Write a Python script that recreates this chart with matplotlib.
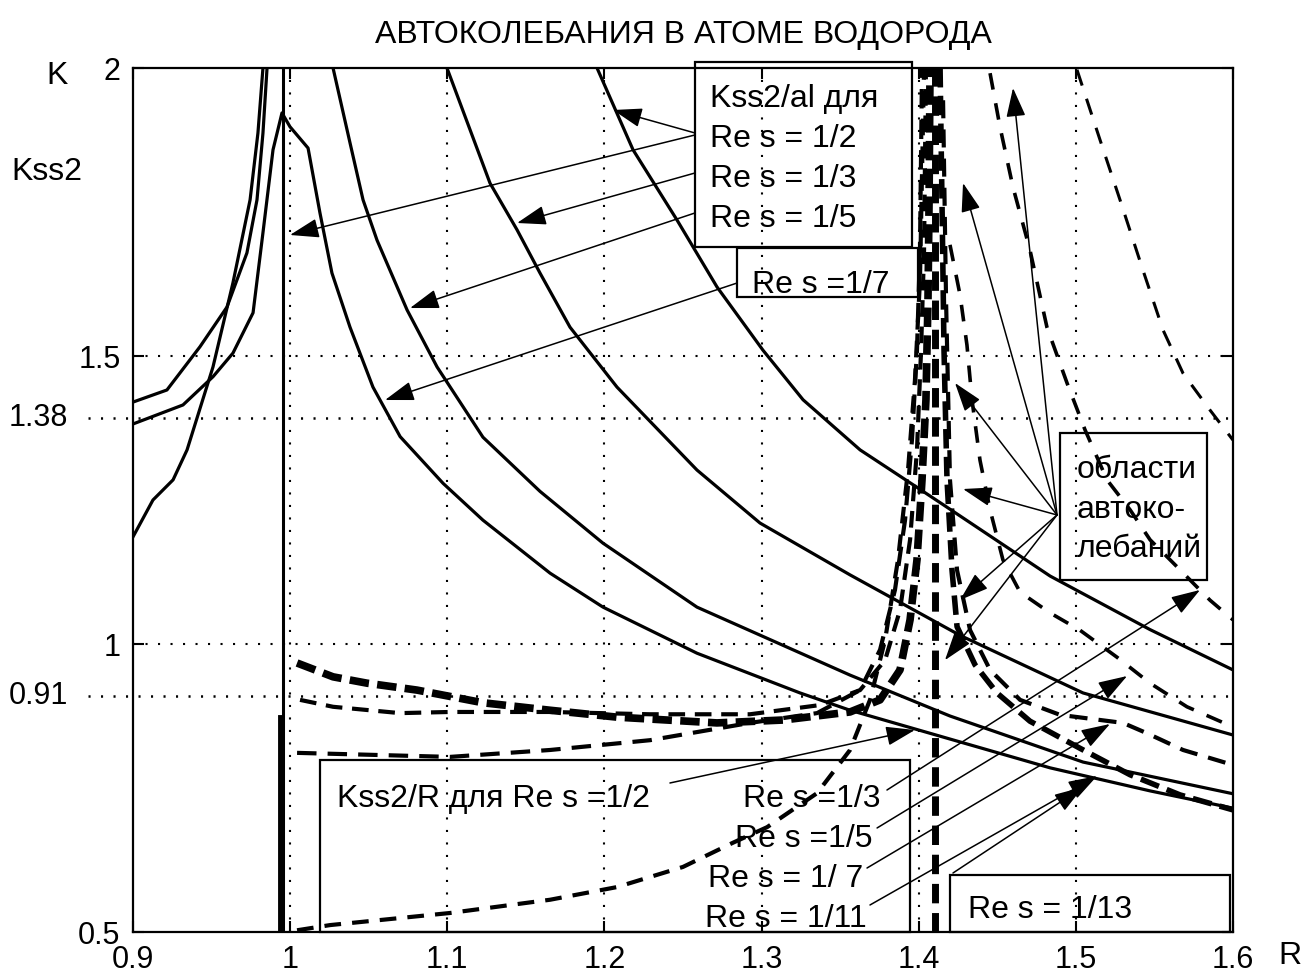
import matplotlib.pyplot as plt
from matplotlib.patches import Rectangle

plt.rcParams['font.family'] = ['Liberation Sans', 'DejaVu Sans']
plt.rcParams['lines.scale_dashes'] = False

# --- Kss2/al, solid curves ---
left1_R = [0.9, 0.9216, 0.9426, 0.9598, 0.9725, 0.9789, 0.9827, 0.9853]
left1_K = [1.420, 1.441, 1.516, 1.585, 1.679, 1.771, 1.887, 2.0]
left3_R = [0.9, 0.9127, 0.9255, 0.9344, 0.9509, 0.9636, 0.9745, 0.9795, 0.9827]
left3_K = [1.186, 1.250, 1.285, 1.337, 1.481, 1.627, 1.771, 1.887, 2.0]
# rises from the left, peaks near R=1 and falls off to the right
peak_R = [0.9, 0.9318, 0.9509, 0.9636, 0.9764, 0.9827, 0.9891, 0.9948, 0.9999, 1.0114,
          1.0190, 1.0266, 1.0381, 1.0527, 1.0700, 1.0973, 1.1227, 1.1654, 1.1991, 1.2589,
          1.3245, 1.3563, 1.4199, 1.4836, 1.5472, 1.6]
peak_K = [1.382, 1.415, 1.464, 1.505, 1.575, 1.714, 1.858, 1.922, 1.898, 1.861,
          1.748, 1.644, 1.550, 1.446, 1.360, 1.279, 1.215, 1.123, 1.064, 0.984,
          0.915, 0.885, 0.835, 0.785, 0.745, 0.715]
kal_b_R = [1.0273, 1.0381, 1.0464, 1.0553, 1.0744, 1.0935, 1.1227, 1.1590, 1.1991, 1.2589,
           1.3563, 1.4199, 1.5046, 1.6]
kal_b_K = [2.0, 1.870, 1.771, 1.701, 1.580, 1.481, 1.359, 1.265, 1.175, 1.064,
           0.946, 0.875, 0.795, 0.740]
kal_c_R = [1.0998, 1.1272, 1.1444, 1.1590, 1.1781, 1.2080, 1.2589, 1.2990, 1.3563, 1.4263,
           1.5046, 1.6]
kal_c_K = [2.0, 1.800, 1.719, 1.644, 1.550, 1.446, 1.302, 1.210, 1.120, 1.015, 0.915, 0.842]
kal_d_R = [1.1953, 1.2182, 1.2462, 1.2716, 1.3009, 1.3264, 1.3627, 1.3989, 1.4155, 1.4836,
           1.5472, 1.6]
kal_d_K = [2.0, 1.858, 1.736, 1.620, 1.510, 1.424, 1.337, 1.272, 1.242, 1.118, 1.025, 0.955]
sing_R = 0.9955

# --- Kss2/R, dashed curves left of the asymptote ---
kr1_R = [1.0044, 1.0273, 1.0489, 1.0807, 1.1227, 1.1654, 1.2080, 1.2716, 1.3136, 1.3563,
         1.3754, 1.3881, 1.3945, 1.3989, 1.4021, 1.4046, 1.4059, 1.4066, 1.4072]
kr1_K = [0.967, 0.943, 0.932, 0.920, 0.898, 0.885, 0.873, 0.863, 0.868, 0.882,
         0.903, 0.955, 1.042, 1.146, 1.285, 1.424, 1.597, 1.771, 2.0]
kr2_R = [1.0063, 1.0273, 1.0699, 1.1017, 1.1654, 1.2290, 1.2926, 1.3372, 1.3627, 1.3786,
         1.3881, 1.3945, 1.3989, 1.4015, 1.4034, 1.4046]
kr2_K = [0.903, 0.891, 0.880, 0.882, 0.882, 0.878, 0.878, 0.894, 0.920, 0.972,
         1.059, 1.181, 1.337, 1.510, 1.684, 2.0]
kr3_R = [1.0044, 1.1017, 1.1654, 1.2290, 1.2926, 1.3353, 1.3627, 1.3754, 1.3849, 1.3913,
         1.3957, 1.3989, 1.4008, 1.4021]
kr3_K = [0.811, 0.804, 0.816, 0.833, 0.863, 0.880, 0.920, 0.990, 1.094, 1.215,
         1.354, 1.510, 1.684, 2.0]
kr4_R = [1.0044, 1.0254, 1.1017, 1.1654, 1.2080, 1.2500, 1.2818, 1.3035, 1.3353, 1.3563,
         1.3690, 1.3786, 1.3868, 1.3932, 1.3976, 1.4008, 1.4034]
kr4_K = [0.503, 0.512, 0.533, 0.556, 0.578, 0.613, 0.655, 0.682, 0.741, 0.816,
         0.903, 1.007, 1.146, 1.302, 1.458, 1.632, 2.0]
asym_R = 1.4104

# --- dashed curves right of the asymptote ---
kr5_R = [1.5007, 1.5154, 1.5281, 1.5427, 1.5555, 1.5682, 1.5854, 1.6]
kr5_K = [1.997, 1.875, 1.771, 1.649, 1.545, 1.470, 1.406, 1.354]
kr6_R = [1.4454, 1.4517, 1.4600, 1.4708, 1.4816, 1.4944, 1.5058, 1.5198, 1.5345, 1.5472,
         1.5644, 1.5854, 1.6]
kr6_K = [1.991, 1.898, 1.793, 1.684, 1.550, 1.453, 1.372, 1.285, 1.233, 1.181,
         1.134, 1.076, 1.042]
kr7_R = [1.4199, 1.4263, 1.4307, 1.4339, 1.4390, 1.4454, 1.4536, 1.4645, 1.4836, 1.5026,
         1.5262, 1.5472, 1.5707, 1.6]
kr7_K = [1.693, 1.606, 1.519, 1.424, 1.319, 1.233, 1.146, 1.090, 1.054, 1.024,
         0.977, 0.932, 0.891, 0.856]
kr8_R = [1.4155, 1.4174, 1.4199, 1.4244, 1.4327, 1.4454, 1.4645, 1.4899, 1.5300, 1.5453,
         1.5682, 1.6]
kr8_K = [1.944, 1.597, 1.285, 1.128, 1.024, 0.955, 0.903, 0.877, 0.863, 0.845, 0.816, 0.790]
kr9_R = [1.4136, 1.4148, 1.4161, 1.4180, 1.4212, 1.4244, 1.4358, 1.4498, 1.4708, 1.5026,
         1.5345, 1.5663, 1.6]
kr9_K = [2.0, 1.771, 1.510, 1.285, 1.128, 1.030, 0.964, 0.915, 0.866, 0.819, 0.773, 0.738, 0.712]

# --- ticks ---
x_ticks = [0.9, 1.0, 1.1, 1.2, 1.3, 1.4, 1.5, 1.6]
x_labels = ['0.9', '1', '1.1', '1.2', '1.3', '1.4', '1.5', '1.6']
y_ticks = [0.5, 1.0, 1.5, 2.0]
y_labels = ['0.5', '1', '1.5', '2']
x_grid = [1.0, 1.1, 1.2, 1.3, 1.4, 1.5]
y_grid = [1.0, 1.5]
extra_levels = [1.393, 0.91]
extra_labels = ['1.38', '0.91']

# --- annotation arrows (tail, tip) ---
al_tails = [(1.2576, 1.8872), (1.2576, 1.8837), (1.2576, 1.8177), (1.2576, 1.7483), (1.2844, 1.6267)]
al_tips = [(1.2055, 1.9271), (0.9999, 1.7101), (1.1444, 1.7309), (1.0763, 1.5833), (1.0604, 1.4236)]
zone_tail = (1.4880, 1.224)
zone_tips = [(1.4600, 1.9653), (1.4282, 1.8003), (1.4231, 1.4531), (1.4282, 1.2691),
             (1.4263, 1.0764), (1.4167, 0.972)]
kr_tails = [(1.2417, 0.7587), (1.3798, 0.7465), (1.3735, 0.6806), (1.3671, 0.6111),
            (1.3690, 0.5469), (1.4218, 0.6024)]
kr_tips = [(1.3976, 0.8507), (1.5790, 1.0938), (1.5326, 0.9444), (1.5217, 0.8611),
           (1.5135, 0.7708), (1.5046, 0.7517)]

dots = (0, (1.5, 7.5))
fig = plt.figure(figsize=(13.04, 9.73), dpi=100)
ax = fig.add_axes([133 / 1304, 41 / 973, 1100 / 1304, 864 / 973])
ax.set_xlim(0.9, 1.6)
ax.set_ylim(0.5, 2.0)

for x in x_grid:
    ax.axvline(x, color='k', lw=1.5, ls=dots, zorder=1)
for y in y_grid:
    ax.axhline(y, color='k', lw=1.5, ls=dots, zorder=1)
for y, lab in zip(extra_levels, extra_labels):
    ax.plot([0.8714, 1.6], [y, y], color='k', lw=1.8, ls=dots, clip_on=False, zorder=1)
    # label sits well left of the axes, at x pixel ~68
    ax.annotate(lab, xy=(0, y), xycoords=('figure pixels', 'data'), xytext=(68, 0),
                textcoords='offset pixels', fontsize=22, ha='right', va='center')

# solid Kss2/al
for R, K in [(left1_R, left1_K), (left3_R, left3_K), (peak_R, peak_K),
             (kal_b_R, kal_b_K), (kal_c_R, kal_c_K), (kal_d_R, kal_d_K)]:
    ax.plot(R, K, color='k', lw=2.3, zorder=3, solid_joinstyle='round')
ax.plot([sing_R, sing_R], [0.5, 2.0], color='k', lw=2.2, zorder=3)
ax.plot([sing_R - 0.002, sing_R - 0.002], [0.5, 0.873], color='k', lw=3.5, zorder=3)

# dashed Kss2/R
ax.plot(kr1_R, kr1_K, color='k', lw=5.5, ls=(0, (14, 6)), zorder=3)
ax.plot(kr2_R, kr2_K, color='k', lw=3.0, ls=(0, (12, 7)), zorder=3)
ax.plot(kr3_R, kr3_K, color='k', lw=3.0, ls=(0, (14, 8)), zorder=3)
ax.plot(kr4_R, kr4_K, color='k', lw=3.0, ls=(0, (12, 8)), zorder=3)
ax.plot([asym_R, asym_R], [0.5, 2.0], color='k', lw=5.0, ls=(0, (14, 7)), zorder=3)
ax.plot(kr5_R, kr5_K, color='k', lw=2.2, ls=(0, (12, 10)), zorder=3)
ax.plot(kr6_R, kr6_K, color='k', lw=2.6, ls=(0, (12, 10)), zorder=3)
ax.plot(kr7_R, kr7_K, color='k', lw=2.6, ls=(0, (12, 10)), zorder=3)
ax.plot(kr8_R, kr8_K, color='k', lw=3.0, ls=(0, (13, 8)), zorder=3)
ax.plot(kr9_R, kr9_K, color='k', lw=4.0, ls=(0, (14, 6)), zorder=3)

# arrows
arrow_kw = dict(arrowstyle='-|>,head_length=0.9,head_width=0.3', color='k', lw=1.1,
                shrinkA=0, shrinkB=0, mutation_scale=20)
for tail, tip in zip(al_tails, al_tips):
    ax.annotate('', xy=tip, xytext=tail, arrowprops=arrow_kw, zorder=4)
for tip in zone_tips:
    ax.annotate('', xy=tip, xytext=zone_tail, arrowprops=arrow_kw, zorder=4)
for tail, tip in zip(kr_tails, kr_tips):
    ax.annotate('', xy=tip, xytext=tail, arrowprops=arrow_kw, zorder=4)

# text boxes
boxes = [(1.2576, 1.6892, 0.1381, 0.3212), (1.2844, 1.6024, 0.1152, 0.0851),
         (1.4899, 1.1111, 0.0936, 0.2552), (1.0190, 0.5, 0.3755, 0.2986),
         (1.4199, 0.5, 0.1782, 0.099)]
for x0, y0, w, h in boxes:
    ax.add_patch(Rectangle((x0, y0), w, h, fill=False, ec='k', lw=1.6, clip_on=False, zorder=5))

fs = 23
ax.text(1.2672, 1.9323, 'Kss2/al для', fontsize=fs, va='baseline')
ax.text(1.2672, 1.8628, 'Re s = 1/2', fontsize=fs, va='baseline')
ax.text(1.2672, 1.7934, 'Re s = 1/3', fontsize=fs, va='baseline')
ax.text(1.2672, 1.7240, 'Re s = 1/5', fontsize=fs, va='baseline')
ax.text(1.2939, 1.6094, 'Re s =1/7', fontsize=fs, va='baseline')
ax.text(1.5007, 1.288, 'области', fontsize=fs, va='baseline')
ax.text(1.5007, 1.219, 'автоко-', fontsize=fs, va='baseline')
ax.text(1.5007, 1.151, 'лебаний', fontsize=fs, va='baseline')
ax.text(1.0298, 0.717, 'Kss2/R для Re s =1/2', fontsize=fs, va='baseline')
ax.text(1.3754, 0.717, 'Re s =1/3', fontsize=fs, va='baseline', ha='right')
ax.text(1.3709, 0.648, 'Re s =1/5', fontsize=fs, va='baseline', ha='right')
ax.text(1.3645, 0.578, 'Re s = 1/ 7', fontsize=fs, va='baseline', ha='right')
ax.text(1.3671, 0.509, 'Re s = 1/11', fontsize=fs, va='baseline', ha='right')
ax.text(1.4314, 0.5243, 'Re s = 1/13', fontsize=fs, va='baseline')

# axes styling
ax.set_xticks(x_ticks)
ax.set_xticklabels(x_labels)
ax.set_yticks(y_ticks)
ax.set_yticklabels(y_labels)
ax.tick_params(direction='in', length=8, width=1.5, top=True, right=True,
               labelsize=22, pad=9)
for sp in ax.spines.values():
    sp.set_linewidth(1.6)

fig.text(683 / 1304, 1 - 35 / 973, 'АВТОКОЛЕБАНИЯ В АТОМЕ ВОДОРОДА', fontsize=fs,
         ha='center', va='center')
fig.text(57 / 1304, 1 - 76 / 973, 'K', fontsize=fs, ha='center', va='center')
fig.text(47 / 1304, 1 - 172 / 973, 'Kss2', fontsize=fs, ha='center', va='center')
fig.text(1290 / 1304, 1 - 956 / 973, 'R', fontsize=fs, ha='center', va='center')

fig.savefig('out.png', dpi=100)
